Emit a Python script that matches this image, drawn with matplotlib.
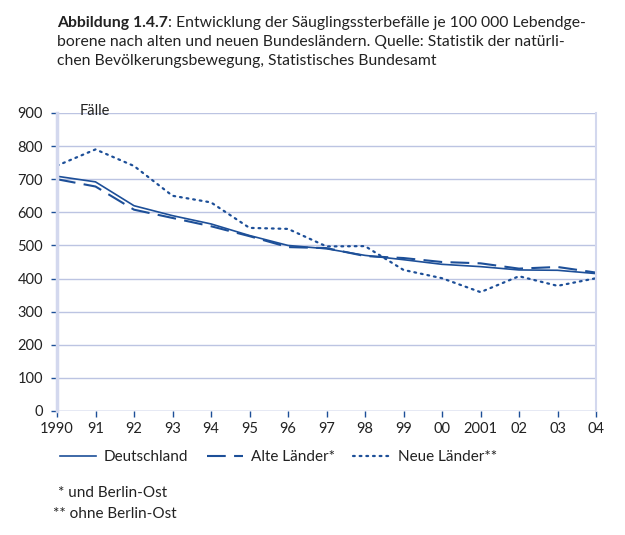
import matplotlib.pyplot as plt

years = list(range(1990, 2005))
year_labels = ['1990', '91', '92', '93', '94', '95', '96', '97', '98', '99',
               '00', '2001', '02', '03', '04']
deutschland = [709, 692, 620, 590, 565, 530, 500, 490, 470, 457, 443, 436, 426, 425, 415]
alte_laender = [700, 678, 608, 583, 558, 528, 495, 492, 468, 462, 450, 446, 430, 435, 418]
neue_laender = [741, 790, 740, 650, 630, 553, 550, 497, 498, 426, 401, 359, 407, 378, 401]
y_ticks = [0, 100, 200, 300, 400, 500, 600, 700, 800, 900]

plt.rcParams['font.family'] = ['Lato', 'DejaVu Sans']

BLUE = '#1d4f98'
GRID = '#bcc4e2'
AXIS = '#d3d8ee'
TEXT = '#222222'

fig = plt.figure(figsize=(6.25, 5.35), dpi=100)
ax = fig.add_axes([57/625, 1 - 411/535, (596 - 57)/625, (411 - 113)/535])

ax.plot(years, deutschland, color=BLUE, lw=1.2, label='Deutschland')
ax.plot(years, alte_laender, color=BLUE, lw=1.5, dashes=(9, 4), label='Alte Länder*')
ax.plot(years, neue_laender, color=BLUE, lw=1.6, linestyle=(0, (0.8, 2.2)),
        dash_capstyle='round', label='Neue Länder**')

ax.set_xlim(1990, 2004)
ax.set_ylim(0, 900)
ax.set_yticks(y_ticks)
ax.set_xticks(years)
ax.set_xticklabels(year_labels)
ax.grid(axis='y', color=GRID, lw=1)
ax.set_axisbelow(True)

for side in ['top', 'bottom']:
    ax.spines[side].set_visible(False)
ax.spines['left'].set_color(AXIS)
ax.spines['left'].set_linewidth(2.5)
ax.spines['right'].set_color(AXIS)
ax.spines['right'].set_linewidth(1.5)
ax.axhline(0, color=GRID, lw=1)

ax.tick_params(axis='x', colors=BLUE, length=4, width=1, labelcolor=TEXT,
               labelsize=10.5, pad=4)
ax.tick_params(axis='y', colors=BLUE, length=4, width=1, labelcolor=TEXT,
               labelsize=10.5, pad=6)

ax.text(1990.6, 905, 'Fälle', fontsize=10.5, color=TEXT, va='center')

fig.legend(loc='center left', bbox_to_anchor=(52/625, 1 - 457/535), ncol=3,
           frameon=False, fontsize=11, handlelength=2.4, handletextpad=0.5,
           columnspacing=1.2, labelcolor=TEXT, borderpad=0)

fig.text(58/625, 1 - 493/535, '* und Berlin-Ost', fontsize=11, va='center', color=TEXT)
fig.text(53/625, 1 - 514/535, '** ohne Berlin-Ost', fontsize=11, va='center', color=TEXT)

# title: bold prefix followed by regular text
bold = fig.text(57/625, 1 - 23/535, 'Abbildung 1.4.7', fontsize=11.3, fontweight='bold',
                va='center', color=TEXT)
fig.canvas.draw()
bb = bold.get_window_extent(fig.canvas.get_renderer())
fig.text(bb.x1 / 625, 1 - 23/535,
         ': Entwicklung der Säuglingssterbefälle je 100 000 Lebendge-',
         fontsize=11.3, va='center', color=TEXT)
fig.text(57/625, 1 - 42/535,
         'borene nach alten und neuen Bundesländern. Quelle: Statistik der natürli-',
         fontsize=11.3, va='center', color=TEXT)
fig.text(57/625, 1 - 61/535,
         'chen Bevölkerungsbewegung, Statistisches Bundesamt',
         fontsize=11.3, va='center', color=TEXT)

fig.savefig('out.png', dpi=100)
